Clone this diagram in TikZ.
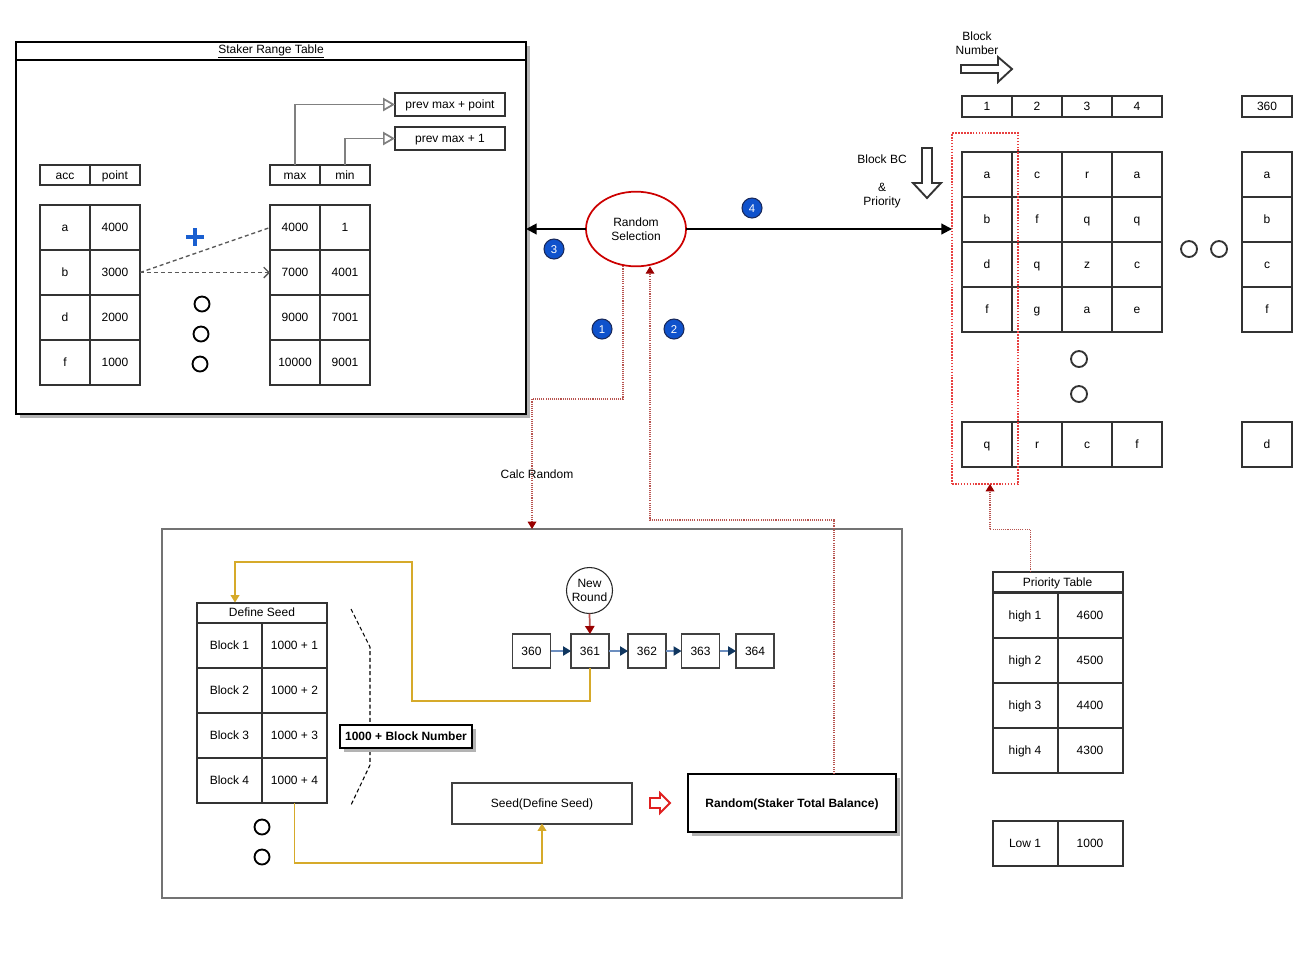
\documentclass[tikz,border=0pt]{standalone}
\usepackage{fontspec}
\setmainfont{Liberation Sans}
\usetikzlibrary{arrows.meta,shapes.geometric,shadows}
\definecolor{tbl}{HTML}{333333}
\definecolor{gline}{HTML}{808080}
\definecolor{badgeblue}{HTML}{0F52CC}
\definecolor{badgeedge}{HTML}{1A2A5C}
\definecolor{plusblue}{HTML}{1A5FD0}
\definecolor{selred}{HTML}{CC0000}
\definecolor{dotred}{HTML}{B85450}
\definecolor{headred}{HTML}{990000}
\definecolor{gold}{HTML}{D6AA2A}
\definecolor{seqline}{HTML}{6C8EBF}
\definecolor{seqhead}{HTML}{10365F}
\definecolor{boxred}{HTML}{E02020}
\definecolor{selbox}{HTML}{E84040}
\definecolor{shadowgray}{HTML}{B3B3B3}
\begin{document}
\begin{tikzpicture}[x=0.75pt,y=-0.75pt,
  every node/.style={font=\fontsize{9}{10.5}\selectfont, inner sep=0pt, outer sep=0pt},
  tx/.style={text height=6.4pt, text depth=0pt},
  cell/.style={tx, draw=tbl, line width=1.5pt, minimum width=37.5pt, minimum height=33.75pt},
  hcell/.style={tx, draw=tbl, line width=1.5pt, minimum width=37.5pt, minimum height=15pt},
  ncell/.style={tx, draw=tbl, line width=1.5pt, minimum width=37.5pt, minimum height=15.75pt},
  wcell/.style={tx, draw=tbl, line width=1.5pt, minimum width=48.75pt, minimum height=33.75pt},
  whead/.style={tx, draw=tbl, line width=1.5pt, minimum width=97.5pt, minimum height=15.5pt},
  pbox/.style={tx, draw=tbl, line width=1.5pt, minimum width=82.5pt, minimum height=17.25pt},
  seqbox/.style={tx, draw=black!75, line width=1.1pt, minimum width=28.5pt, minimum height=25.5pt},
  ring/.style={circle, draw=black, line width=1.4pt, minimum size=11.25pt},
  bigring/.style={circle, draw=tbl, line width=1.4pt, minimum size=12pt},
  badge/.style={tx, circle, fill=badgeblue, draw=badgeedge, line width=0.8pt, minimum size=15pt, text=white, font=\fontsize{8.5}{9}\selectfont},
  shadowed/.style={drop shadow={shadow xshift=3pt, shadow yshift=-3pt, fill=shadowgray, opacity=1}},
  gconn/.style={draw=gline, line width=1.3pt, -{Triangle[open, length=9pt, width=10pt, fill=white]}},
  gdash/.style={draw=black!65, line width=1pt, dash pattern=on 3pt off 2.2pt},
  barrow/.style={draw=black, line width=1.5pt, -{Triangle[length=8pt, width=8pt]}},
  rdot/.style={draw=dotred, line width=0.9pt, dash pattern=on 0.8pt off 0.8pt, -{Triangle[length=5.5pt, width=6.5pt, color=headred]}},
  yarrow/.style={draw=gold, line width=1.1pt, -{Triangle[length=5.5pt, width=6.5pt, color=gold]}},
  sarrow/.style={draw=seqline, line width=1.1pt, -{Triangle[length=6pt, width=7pt, color=seqhead]}}
]
\useasboundingbox (0,0) rectangle (1312,972);

% ---------------- Staker Range Table ----------------
\node[draw=black, line width=1.6pt, fill=white, minimum width=382.5pt, minimum height=279pt, shadowed] (srt) at (271,228) {};
\draw[line width=1.6pt] ([yshift=-13.5pt]srt.north west) -- ([yshift=-13.5pt]srt.north east);
\node (srttitle) at (271,51.5) {\underline{Staker Range Table}};

\node[hcell] (hacc) at (65,175) {acc};
\node[hcell] (hpt) at (115,175) {point};
\node[hcell] (hmax) at (295,175) {max};
\node[hcell] (hmin) at (345,175) {min};
\foreach \a/\b/\c/\d [count=\i] in {a/4000/4000/1, b/3000/7000/4001, d/2000/9000/7001, f/1000/10000/9001} {
  \node[cell] (acc\i) at (65,{182.5+45*\i}) {\a};
  \node[cell] (pt\i) at (115,{182.5+45*\i}) {\b};
  \node[cell] (mx\i) at (295,{182.5+45*\i}) {\c};
  \node[cell] (mn\i) at (345,{182.5+45*\i}) {\d};
}
\node[pbox] (pmp) at (450,104.5) {prev max + point};
\node[pbox] (pm1) at (450,138.5) {prev max + 1};
\draw[gconn] (hmax.north) |- (pmp.west);
\draw[gconn] (hmin.north) |- (pm1.west);

\draw[plusblue, line width=3.4pt] (186,237) -- (204,237) (195,228) -- (195,246);
\draw[gdash] (pt2.east) -- (mx1.west);
\draw[gdash, -{Straight Barb[length=4pt, width=8pt]}] (pt2.east) -- (mx2.west);
\node[ring] (lo1) at (202,304) {};
\node[ring] (lo2) at (201,334) {};
\node[ring] (lo3) at (200,364) {};

% ---------------- Random selection ----------------
\node[ellipse, draw=selred, line width=1.3pt, fill=white, minimum width=75pt, minimum height=56pt, align=center] (rs) at (636,229) {Random\\Selection};
\draw[barrow] (rs.west) -- (rs.west -| srt.east);

% ---------------- Right grid ----------------
\node[align=center] (bnlabel) at (977,43) {Block\\Number};
\draw[tbl, line width=1.4pt, fill=white] (961,65) -- (998,65) -- (998,57) -- (1012,69) -- (998,82) -- (998,73) -- (961,73) -- cycle;

\foreach \n [count=\j] in {1,2,3,4} {
  \node[ncell] (nr\j) at ({937+50*\j},106.5) {\n};
}
\node[ncell] (nr360) at (1267,106.5) {360};

\foreach \l [count=\j] in {a,c,r,a} { \node[cell] (ga\j) at ({937+50*\j},174.5) {\l}; }
\foreach \l [count=\j] in {b,f,q,q} { \node[cell] (gb\j) at ({937+50*\j},219.5) {\l}; }
\foreach \l [count=\j] in {d,q,z,c} { \node[cell] (gc\j) at ({937+50*\j},264.5) {\l}; }
\foreach \l [count=\j] in {f,g,a,e} { \node[cell] (gd\j) at ({937+50*\j},309.5) {\l}; }
\foreach \l [count=\j] in {q,r,c,f} { \node[cell] (ge\j) at ({937+50*\j},444.5) {\l}; }
\foreach \l/\y [count=\j] in {a/174.5,b/219.5,c/264.5,f/309.5,d/444.5} { \node[cell] (gr\j) at (1267,\y) {\l}; }

\node[bigring] (ro1) at (1189,249) {};
\node[bigring] (ro2) at (1219,249) {};
\node[bigring] (ro3) at (1079,359) {};
\node[bigring] (ro4) at (1079,394) {};

\node[draw=selbox, line width=1.7pt, dash pattern=on 1.2pt off 1pt, minimum width=49.5pt, minimum height=263.25pt] (sel) at (985,308.5) {};

\draw[barrow] (rs.east) -- (rs.east -| sel.west);

\node[align=center] (bbc) at (882,181) {Block BC\\[10.5pt]\&\\Priority};
\draw[tbl, line width=1.4pt, fill=white] (922,148) -- (932,148) -- (932,183) -- (941,183) -- (927,198) -- (913,183) -- (922,183) -- cycle;

\node[badge] (b3) at (554,249) {3};
\node[badge] (b4) at (752,208) {4};
\node[badge] (b1) at (602,329) {1};
\node[badge] (b2) at (674,329) {2};

% ---------------- Priority table ----------------
\node[whead] (ph) at (1057.5,582) {Priority Table};
\foreach \a/\b [count=\i] in {high 1/4600, high 2/4500, high 3/4400, high 4/4300} {
  \node[wcell] (pa\i) at (1025,{570.5+45*\i}) {\a};
  \node[wcell] (pb\i) at (1090,{570.5+45*\i}) {\b};
}
\node[wcell] (la) at (1025,843) {Low 1};
\node[wcell] (lb) at (1090,843) {1000};
\draw[rdot] ([xshift=-20.25pt]ph.north) -- ++(0,-42) -| ([xshift=3.75pt]sel.south);

% ---------------- Bottom box ----------------
\node[draw=black!55, line width=1.3pt, minimum width=555pt, minimum height=276.75pt] (bb) at (532,713.5) {};
\draw[rdot] ([xshift=-9.75pt]rs.south) |- (532,399) -- (bb.north);
\node[tx] (calc) at (537,474) {Calc Random};

\node[whead, minimum height=15pt] (ds) at (262,612.5) {Define Seed};
\foreach \a/\b [count=\i] in {Block 1/1000 + 1, Block 2/1000 + 2, Block 3/1000 + 3, Block 4/1000 + 4} {
  \node[wcell] (dk\i) at (229.5,{600.5+45*\i}) {\a};
  \node[wcell] (dv\i) at (294.5,{600.5+45*\i}) {\b};
}
\node[ring] (bo1) at (262,827) {};
\node[ring] (bo2) at (262,857) {};

\draw[black, line width=0.8pt, dash pattern=on 3pt off 2pt] (351,609) -- (370,647) -- (370,765) -- (351,805);
\node[tx, draw=black, line width=1.6pt, fill=white, minimum width=99pt, minimum height=17.25pt, font=\bfseries\fontsize{9}{10.5}\selectfont, shadowed] (bn) at (406,736.5) {1000 + Block Number};

\node[circle, draw=black!85, line width=0.8pt, minimum size=34.5pt, align=center, font=\fontsize{9}{10}\selectfont] (nround) at (589.5,590.5) {New\\Round};
\node[seqbox] (s360) at (531.5,651) {360};
\node[seqbox] (s361) at (590,651) {361};
\node[seqbox] (s362) at (647,651) {362};
\node[seqbox] (s363) at (700.5,651) {363};
\node[seqbox] (s364) at (755,651) {364};
\draw[sarrow] (s360) -- (s361);
\draw[sarrow] (s361) -- (s362);
\draw[sarrow] (s362) -- (s363);
\draw[sarrow] (s363) -- (s364);
\draw[draw=dotred, line width=1.3pt, -{Triangle[length=6pt, width=7pt, color=headred]}] (nround.south) -- (s361.north);

\node[tx, draw=black!75, line width=1.5pt, minimum width=135pt, minimum height=30.75pt] (seed) at (542,803) {Seed(Define Seed)};
\node[tx, draw=black, line width=1.7pt, fill=white, minimum width=156pt, minimum height=43.5pt, font=\bfseries\fontsize{9}{10.5}\selectfont, shadowed] (rnd) at (792,803) {Random(Staker Total Balance)};
\draw[boxred, line width=1.4pt, fill=white] (650,798) -- (660,798) -- (660,793) -- (670,803) -- (660,813) -- (660,808) -- (650,808) -- cycle;

\draw[yarrow] (s361.south) -- ++(0,33) -| (412,562) -| ([xshift=-20.25pt]ds.north);
\draw[yarrow] (dv4.south) -- ++(0,60) -| (seed.south);

\draw[rdot] ([xshift=31.5pt]rnd.north) |- (650,520) -- ([xshift=10.5pt]rs.south);

\end{tikzpicture}
\end{document}
